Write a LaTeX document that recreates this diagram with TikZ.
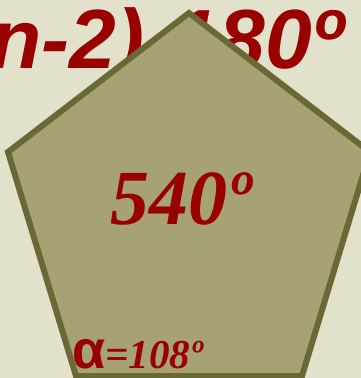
\documentclass[tikz,border=0pt]{standalone}
\usepackage{fontspec}
\setmainfont{Liberation Serif}
\setsansfont{Liberation Sans}
\definecolor{paper}{HTML}{E2E1CC}
\definecolor{olivefill}{HTML}{A6A274}
\definecolor{olivedraw}{HTML}{6A6834}
\definecolor{darkred}{HTML}{990000}

\begin{document}
\begin{tikzpicture}[
    x=1pt, y=-1pt,
    formula/.style={
        inner sep=0pt, text=darkred,
        font=\fontsize{84}{84}\selectfont\sffamily\bfseries\itshape
    },
    total/.style={
        inner sep=0pt, text=darkred,
        font=\fontsize{78}{78}\selectfont\bfseries\itshape
    },
    angle/.style={
        inner sep=0pt, text=darkred,
        font=\fontsize{41}{41}\selectfont\bfseries\itshape
    },
    pentagon/.style={
        fill=olivefill, draw=olivedraw, line width=6pt, line join=miter
    }
]
\fill[paper] (0,0) rectangle (361,378);
\useasboundingbox (0,0) rectangle (361,378);
\clip (0,0) rectangle (361,378);

\node[formula, anchor=base east] (sum) at (343,68) {(n-2)-180º};

\coordinate (top)   at (189,13);
\coordinate (left)  at (8,152);
\coordinate (right) at (370,152);
\coordinate (bl)    at (76,376);
\coordinate (br)    at (302,376);
\draw[pentagon] (top) -- (right) -- (br) -- (bl) -- (left) -- cycle;

\node[total, anchor=base] (inner) at (181,224) {540º};
\node[angle, anchor=base west] (alpha) at (72,368)
    {{\fontsize{54}{54}\selectfont\sffamily\bfseries\upshape α}=108º};

\end{tikzpicture}
\end{document}
